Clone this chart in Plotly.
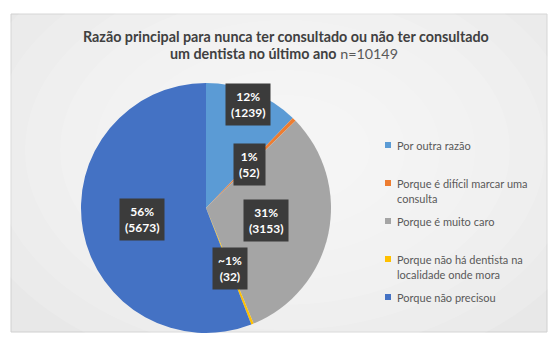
import math
import plotly.graph_objects as go

# ---- data ----
categories = [
    "Por outra razão",
    "Porque é difícil marcar uma<br>consulta",
    "Porque é muito caro",
    "Porque não há dentista na<br>localidade onde mora",
    "Porque não precisou",
]
counts = [1239, 52, 3153, 32, 5673]
pct_labels = ["12%", "1%", "31%", "~1%", "56%"]
colors = ["#5B9BD5", "#ED7D31", "#A5A5A5", "#FFC000", "#4472C4"]
total_n = 10149
title_line1 = "Razão principal para nunca ter consultado ou não ter consultado"
title_line2 = "um dentista no último ano"
label_radius = [0.89, 0.49, 0.49, 0.52, 0.52]

W, H = 548, 343
cx, cy, R = 206, 208, 125
FONT = "Lato, Open Sans, sans-serif"


def px(x):
    return x / W


def py(y):
    return 1 - y / H


fig = go.Figure()
fig.add_trace(go.Pie(
    labels=[c.replace("<br>", " ") for c in categories],
    values=counts,
    sort=False,
    direction="clockwise",
    rotation=0,
    marker=dict(colors=colors, line=dict(width=0)),
    textinfo="none",
    hoverinfo="label+value+percent",
    domain=dict(x=[px(cx - R), px(cx + R)], y=[py(cy + R), py(cy - R)]),
    showlegend=False,
))

annotations = []
shapes = [
    dict(type="rect", xref="paper", yref="paper", x0=px(11), x1=px(547), y0=py(332), y1=py(14),
         fillcolor="#e8e8e8", line=dict(color="#d0d0d0", width=1), layer="below"),
]
# soft radial background gradient
for k in range(8):
    rx = 330 - k * 35
    ry = 230 - k * 25
    shapes.append(dict(type="circle", xref="paper", yref="paper",
                       x0=px(285 - rx), x1=px(285 + rx), y0=py(150 + ry), y1=py(150 - ry),
                       fillcolor="rgba(255,255,255,0.13)", line=dict(width=0), layer="below"))

# data labels positioned from slice angles
tot = sum(counts)
cum = 0
for i, v in enumerate(counts):
    mid = (cum + v / 2) / tot * 2 * math.pi
    cum += v
    r = label_radius[i] * R
    lx = cx + r * math.sin(mid)
    ly = cy - r * math.cos(mid)
    annotations.append(dict(
        x=px(lx), y=py(ly), xref="paper", yref="paper", xanchor="center", yanchor="middle",
        text=f"<b>{pct_labels[i]}<br>({v})</b>",
        showarrow=False, bgcolor="#3b3b3b", borderpad=5,
        font=dict(family=FONT, size=12, color="white"), align="center",
    ))

# title
annotations.append(dict(x=px(286), y=py(37), xref="paper", yref="paper", xanchor="center", yanchor="middle",
                        text=f"<b>{title_line1}</b>", showarrow=False,
                        font=dict(family=FONT, size=14.3, color="#404040")))
annotations.append(dict(x=px(284), y=py(54), xref="paper", yref="paper", xanchor="center", yanchor="middle",
                        text=f"<b>{title_line2}</b> <span style='color:#595959'>n={total_n}</span>",
                        showarrow=False, font=dict(family=FONT, size=14.3, color="#404040")))

# legend drawn from categories/colors
item_top = 145
pitch = 38
line_h = 15
for i, (c, col) in enumerate(zip(categories, colors)):
    y0 = item_top + i * pitch
    shapes.append(dict(type="rect", xref="paper", yref="paper",
                       x0=px(385), x1=px(391), y0=py(y0 + 3), y1=py(y0 - 3),
                       fillcolor=col, line=dict(width=0)))
    for j, line in enumerate(c.split("<br>")):
        annotations.append(dict(x=px(395), y=py(y0 + j * line_h), xref="paper", yref="paper",
                                xanchor="left", yanchor="middle", text=line, showarrow=False,
                                font=dict(family=FONT, size=11, color="#595959")))

fig.update_layout(
    width=W, height=H,
    margin=dict(l=0, r=0, t=0, b=0),
    paper_bgcolor="white",
    plot_bgcolor="rgba(0,0,0,0)",
    showlegend=False,
    annotations=annotations,
    shapes=shapes,
)

fig.write_html("out.html")
